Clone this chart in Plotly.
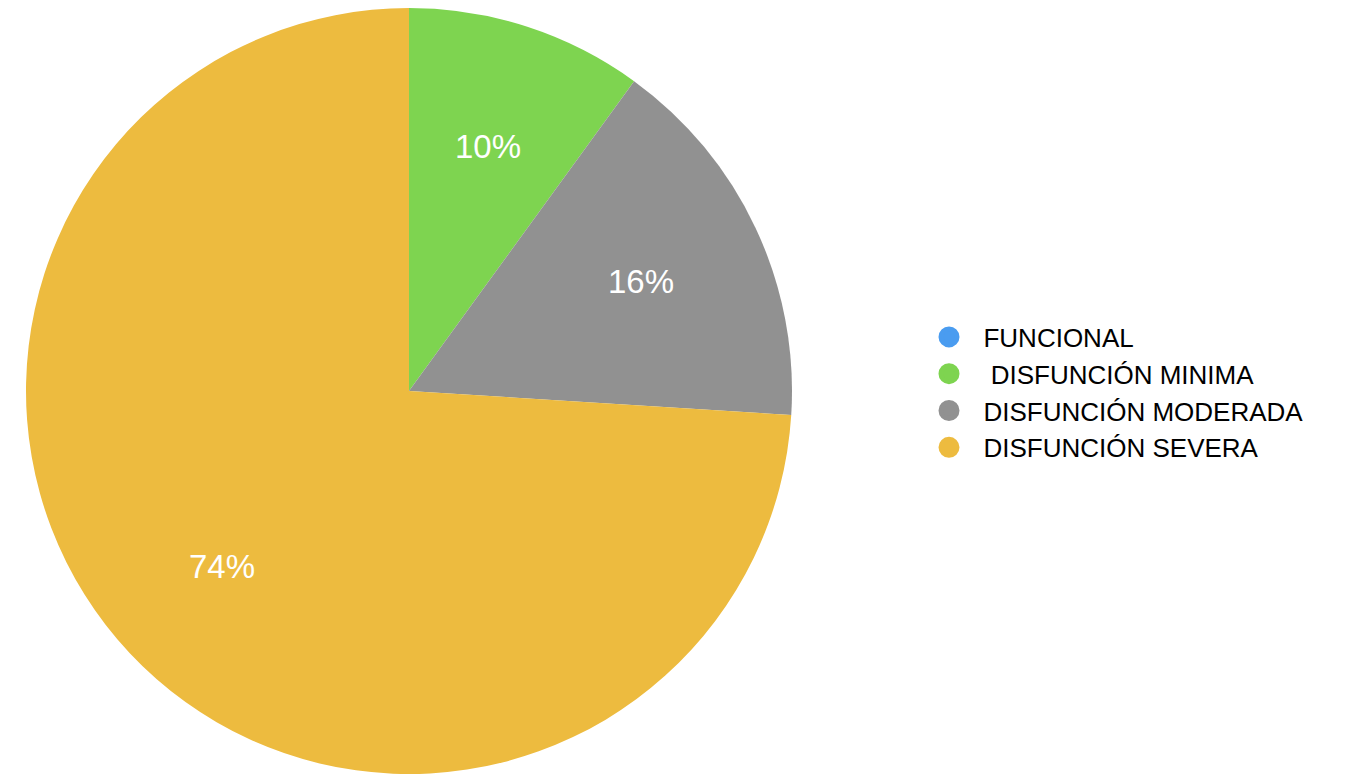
import math
import plotly.graph_objects as go

categories = ["FUNCIONAL", "DISFUNCIÓN MINIMA", "DISFUNCIÓN MODERADA", "DISFUNCIÓN SEVERA"]
values = [0, 10, 16, 74]
colors = ["#4A9CF0", "#7ED450", "#919191", "#EDBB3F"]

W, H = 1348, 774
# pie geometry in figure pixels (page has an 8px body margin)
cx, cy, r = 401, 383, 383
FONT = "Liberation Sans, Arial, Helvetica, sans-serif"

fig = go.Figure()
fig.add_trace(go.Pie(
    labels=categories,
    values=values,
    textinfo="none",
    sort=False,
    direction="clockwise",
    rotation=0,
    marker=dict(colors=colors, line=dict(width=0)),
    showlegend=False,
    hoverinfo="label+percent",
    domain=dict(x=[(cx - r) / W, (cx + r) / W], y=[1 - (cy + r) / H, 1 - (cy - r) / H]),
))

# slice labels placed along each slice's bisector, derived from the values
total = sum(values)
cum = 0
for v in values:
    if v > 0:
        mid = (cum + v / 2) / total * 2 * math.pi
        d = 0.67 * r
        px = cx + d * math.sin(mid)
        py = cy - d * math.cos(mid)
        fig.add_annotation(
            x=px / W, y=1 - py / H, xref="paper", yref="paper",
            text=f"{v}%", showarrow=False,
            font=dict(family=FONT, size=33, color="white"),
            xanchor="center", yanchor="middle",
        )
    cum += v

for i, (name, col) in enumerate(zip(categories, colors)):
    pad = "   " if i == 1 else "  "
    fig.add_trace(go.Scatter(
        x=[None], y=[None], mode="markers", name=pad + name,
        marker=dict(symbol="circle", size=16, color=col, line=dict(color=col, width=5)),
        showlegend=True,
    ))

fig.update_layout(
    width=W, height=H,
    margin=dict(l=0, r=0, t=0, b=0),
    paper_bgcolor="white", plot_bgcolor="white",
    xaxis=dict(visible=False), yaxis=dict(visible=False),
    legend=dict(
        x=921 / W, xanchor="left", y=1 - 384.5 / H, yanchor="middle",
        font=dict(family=FONT, size=26, color="black"),
        itemsizing="trace", bgcolor="rgba(0,0,0,0)",
    ),
)

fig.write_html("out.html")
